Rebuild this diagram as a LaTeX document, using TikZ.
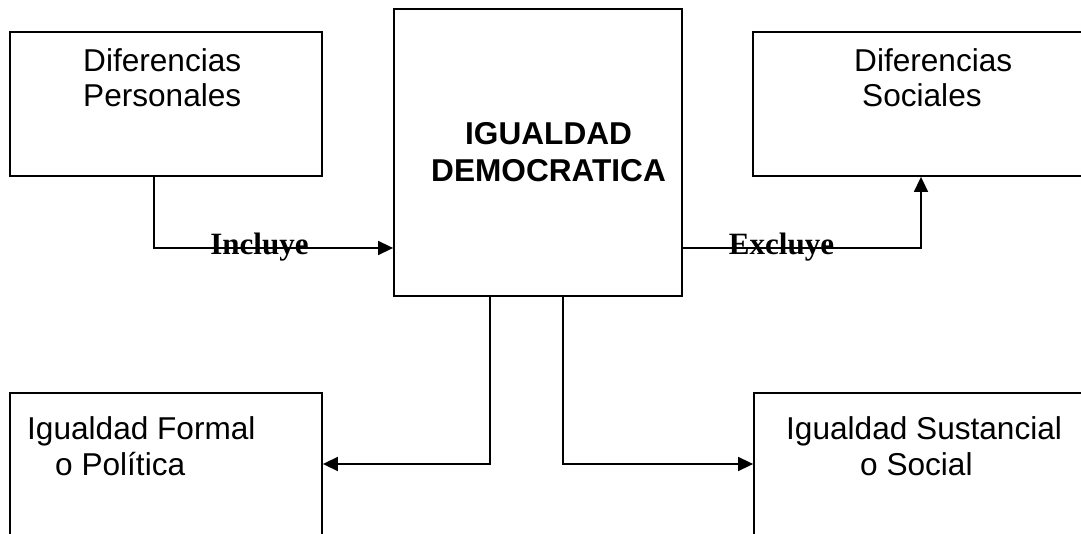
\documentclass[tikz,border=0pt]{standalone}
\usepackage{fontspec}
\setmainfont{Liberation Sans}
\newfontfamily\labelfont{Liberation Serif}
\usetikzlibrary{arrows.meta}
\tikzset{
  box/.style={draw, line width=1.8pt, inner sep=0pt},
  boxtext/.style={inner sep=0pt, anchor=base west, align=left, font=\fontsize{31.6}{35.6}\selectfont},
  linktext/.style={inner sep=0pt, anchor=base, font=\labelfont\bfseries\fontsize{31}{35}\selectfont},
  link/.style={line width=1.6pt, -{Triangle[length=15pt,width=14pt]}}
}
\begin{document}
\begin{tikzpicture}[x=1pt,y=1pt]
    \useasboundingbox (0,0) rectangle (1081,533);
    \clip (0,0) rectangle (1081,533);
    % Boxes
    \node[box, minimum width=312pt, minimum height=144pt] (perso) at (166,429) {};
    \node[box, minimum width=288pt, minimum height=287pt] (demo) at (538,380.5) {};
    \node[box, minimum width=347pt, minimum height=144pt] (soc) at (926.5,429) {};
    \node[box, minimum width=312pt, minimum height=200pt] (formal) at (166,40) {};
    \node[box, minimum width=346pt, minimum height=200pt] (sust) at (927,40) {};
    % Texts in the boxes
    \node[boxtext] (persotext) at (83,426) {Diferencias\\Personales};
    \node[boxtext, font=\bfseries\fontsize{31.6}{37}\selectfont] (demotext) at (431,351) {\hspace*{34pt}IGUALDAD\\DEMOCRATICA};
    \node[boxtext] (soctext) at (854,426) {Diferencias\\\hspace*{8pt}Sociales};
    \node[boxtext] (formaltext) at (27,58) {Igualdad Formal\\\hspace*{28pt}o Política};
    \node[boxtext] (susttext) at (786,58) {Igualdad Sustancial\\\hspace*{74pt}o Social};
    % Connectors
    \coordinate (inc) at (154,285);
    \coordinate (exc) at (921,285);
    \coordinate (fl) at (490,69);
    \coordinate (fr) at (563,69);
    \draw[link] (perso.south -| inc) |- (demo.west |- inc);
    \draw[link] (demo.east |- exc) -| (soc.south -| exc);
    \draw[link] (demo.south -| fl) |- (formal.east |- fl);
    \draw[link] (demo.south -| fr) |- (sust.west |- fr);
    % Labels on the connectors
    \node[linktext] (incluye) at (259.5,278) {Incluye};
    \node[linktext] (excluye) at (781.5,278) {Excluye};
\end{tikzpicture}
\end{document}
